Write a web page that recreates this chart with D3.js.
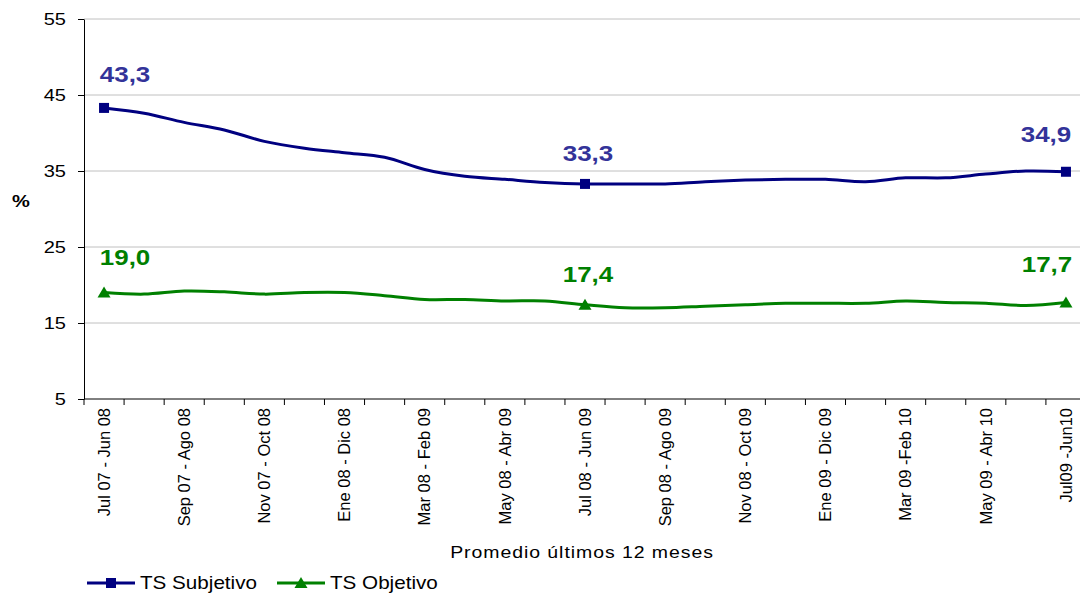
<!DOCTYPE html>
<html>
<head>
<meta charset="utf-8">
<script src="https://cdn.jsdelivr.net/npm/d3@7"></script>
<style>
  body { margin: 0; background: #fff; }
  text { font-family: "Liberation Sans", Arial, sans-serif; }
</style>
</head>
<body>
<div id="chart"></div>
<script>
// data
var categories = [
  "Jul 07 - Jun 08", "Ago 07 - Jul 08", "Sep 07 - Ago 08", "Oct 07 - Sep 08",
  "Nov 07 - Oct 08", "Dic 07 - Nov 08", "Ene 08 - Dic 08", "Feb 08 - Ene 09",
  "Mar 08 - Feb 09", "Abr 08 - Mar 09", "May 08 - Abr 09", "Jun 08 - May 09",
  "Jul 08 - Jun 09", "Ago 08 - Jul 09", "Sep 08 - Ago 09", "Oct 08 - Sep 09",
  "Nov 08 - Oct 09", "Dic 08 - Nov 09", "Ene 09 - Dic 09", "Feb 09 - Ene 10",
  "Mar 09 -Feb 10", "Abr 09 - Mar 10", "May 09 - Abr 10", "Jun 09 - May 10",
  "Jul09 -Jun10"
];
var subjetivo = [43.3, 42.6, 41.4, 40.4, 38.9, 38.0, 37.4, 36.8, 35.2, 34.3, 33.9, 33.5,
                 33.3, 33.3, 33.3, 33.6, 33.8, 33.9, 33.9, 33.6, 34.1, 34.1, 34.6, 35.0, 34.9];
var objetivo = [19.0, 18.8, 19.2, 19.1, 18.8, 19.0, 19.0, 18.6, 18.1, 18.1, 17.9, 17.9,
                17.4, 17.0, 17.0, 17.2, 17.4, 17.6, 17.6, 17.6, 17.9, 17.7, 17.6, 17.3, 17.7];
var yTicks = [5, 15, 25, 35, 45, 55];
var labelled = [0, 12, 24];   // points with marker and value label
var seriesNames = ["TS Subjetivo", "TS Objetivo"];

var width = 1080, height = 595;
var plotLeft = 84, plotTop = 19, plotBottom = 399, plotRight = 1086;
var sx = 1.18; // the picture is a bit wide, stretch text horizontally

var svg = d3.select("#chart").append("svg")
  .attr("width", width).attr("height", height);

var x = d3.scaleBand().domain(categories).range([plotLeft, plotRight]).padding(0);
var y = d3.scaleLinear().domain([5, 55]).range([plotBottom, plotTop]);
var cx = function(i) { return x(categories[i]) + x.bandwidth() / 2; };

// stretched horizontal text
function stext(g, px, py, str, anchor) {
  return g.append("g")
    .attr("transform", "translate(" + px + "," + py + ") scale(" + sx + ",1)")
    .append("text").attr("text-anchor", anchor || "start").text(str);
}

// gridlines
svg.append("g").selectAll("line")
  .data(yTicks.filter(function(d) { return d > 5; }))
  .enter().append("line")
  .attr("x1", plotLeft).attr("x2", plotRight)
  .attr("y1", function(d) { return y(d); }).attr("y2", function(d) { return y(d); })
  .attr("stroke", "#c0c0c0").attr("stroke-width", 1);

// y axis
var yAxis = svg.append("g")
  .attr("transform", "translate(" + plotLeft + ",0)")
  .call(d3.axisLeft(y).tickValues(yTicks).tickSize(6).tickSizeOuter(0).tickFormat(""));
yAxis.select(".domain").attr("stroke", "#000");
yAxis.selectAll(".tick line").attr("stroke", "#000");
yTicks.forEach(function(t) {
  stext(svg, 66, y(t), t, "end").attr("dy", "0.35em").style("font-size", "17px").attr("fill", "#000");
});
stext(svg, 12, 207, "%").style("font-size", "17px").style("font-weight", "bold");

// x axis: ticks on category boundaries
var edges = categories.map(function(c) { return x(c); }).concat([plotRight]);
svg.append("line").attr("x1", plotLeft).attr("x2", plotRight)
  .attr("y1", plotBottom).attr("y2", plotBottom).attr("stroke", "#000");
svg.append("g").selectAll("line").data(edges).enter().append("line")
  .attr("x1", function(d) { return d; }).attr("x2", function(d) { return d; })
  .attr("y1", plotBottom).attr("y2", plotBottom + 6).attr("stroke", "#000");

svg.append("g").selectAll("text")
  .data(categories.filter(function(c, i) { return i % 2 === 0; }))
  .enter().append("text")
  .attr("transform", function(d) { return "translate(" + (x(d) + x.bandwidth() / 2) + "," + (plotBottom + 9) + ") rotate(-90)"; })
  .attr("dy", "0.35em")
  .attr("text-anchor", "end")
  .style("font-size", "16.5px")
  .text(function(d) { return d; });

stext(svg, 582, 558, "Promedio últimos 12 meses", "middle")
  .style("font-size", "16.5px").style("letter-spacing", "0.8px");

// lines
var line = d3.line()
  .x(function(d, i) { return cx(i); })
  .y(function(d) { return y(d); })
  .curve(d3.curveCatmullRom.alpha(0.5));

var series = [
  { name: seriesNames[0], values: subjetivo, color: "#000080", labelColor: "#333399", marker: "square",
    offs: [[21, -26], [3, -23], [-20, -30]] },
  { name: seriesNames[1], values: objetivo, color: "#008000", labelColor: "#008000", marker: "triangle",
    offs: [[21, -28], [3, -23], [-19, -30]] }
];

function marker(g, type, px, py, color) {
  if (type === "square") {
    g.append("rect").attr("x", px - 5).attr("y", py - 5).attr("width", 10).attr("height", 10).attr("fill", color);
  } else {
    g.append("path").attr("d", "M" + px + "," + (py - 6) + "L" + (px + 6.5) + "," + (py + 5) + "L" + (px - 6.5) + "," + (py + 5) + "Z")
      .attr("fill", color);
  }
}

series.forEach(function(s) {
  svg.append("path").datum(s.values)
    .attr("d", line).attr("fill", "none")
    .attr("stroke", s.color).attr("stroke-width", 3);
  labelled.forEach(function(i, k) {
    marker(svg, s.marker, cx(i), y(s.values[i]), s.color);
    stext(svg, cx(i) + s.offs[k][0], y(s.values[i]) + s.offs[k][1], d3.format(".1f")(s.values[i]).replace(".", ","), "middle")
      .style("font-size", "22px").style("font-weight", "bold").attr("fill", s.labelColor);
  });
});

// legend
var legendX = [87, 277];
series.forEach(function(s, k) {
  var lx = legendX[k];
  svg.append("line").attr("x1", lx).attr("x2", lx + 48).attr("y1", 583).attr("y2", 583)
    .attr("stroke", s.color).attr("stroke-width", 3);
  marker(svg, s.marker, lx + 24, 583, s.color);
  stext(svg, lx + 53, 589, s.name).style("font-size", "17.5px");
});
</script>
</body>
</html>
